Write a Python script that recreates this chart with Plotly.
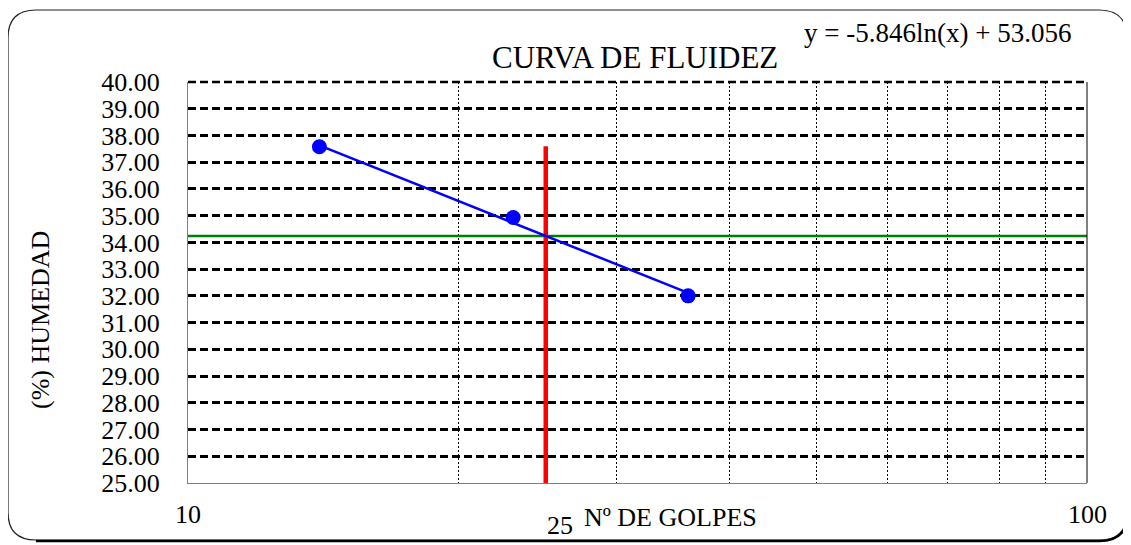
import math
import plotly.graph_objects as go

# ---- data ----
golpes = [14, 23, 36]                 # Nº de golpes (x, log scale)
humedad = [37.58, 34.93, 32.00]       # (%) humedad
trend_x = [14, 36]                    # logarithmic trend line ends
trend_y = [37.63, 32.11]
ll_golpes = 25                        # 25 golpes reference
ll_humedad = 34.24                    # moisture at 25 blows
red_top = 37.6
y_ticks = [25 + i for i in range(16)]
x_grid = [20, 30, 40, 50, 60, 70, 80, 90]
x_labels = ["10", "100"]
equation = "y = -5.846ln(x) + 53.056"
title = "CURVA DE FLUIDEZ"
x_title = "Nº DE GOLPES"
y_title = "(%) HUMEDAD"

OFF = 8                      # page body margin
W, H = 1131 - OFF, 545 - OFF
L, R, T, B = 188 - OFF, 1087 - OFF, 82 - OFF, 483 - OFF
FONT = "Liberation Serif"


def px(xp):
    return (xp - OFF - L) / (R - L)


def py(yp):
    return (B - (yp - OFF)) / (B - T)


fig = go.Figure()

fig.add_trace(go.Scatter(x=[10, 100], y=[ll_humedad, ll_humedad], mode="lines",
                         line=dict(color="#008000", width=2.5), showlegend=False,
                         hoverinfo="skip"))
fig.add_trace(go.Scatter(x=[ll_golpes, ll_golpes], y=[25, red_top], mode="lines",
                         line=dict(color="#FF0000", width=4.5), showlegend=False,
                         hoverinfo="skip"))
fig.add_trace(go.Scatter(x=trend_x, y=trend_y, mode="lines",
                         line=dict(color="#0000FF", width=2.5), showlegend=False))
fig.add_trace(go.Scatter(x=golpes, y=humedad, mode="markers",
                         marker=dict(color="#0000FF", size=15), showlegend=False))

fig.update_xaxes(type="log", range=[1, 2], tickvals=x_grid, showticklabels=False,
                 showgrid=True, gridcolor="black", gridwidth=1, griddash="2px,2px",
                 showline=True, linecolor="#808080", linewidth=1, ticks="",
                 zeroline=False)
fig.update_yaxes(range=[25, 40], tickvals=y_ticks, tickformat=".2f",
                 showgrid=True, gridcolor="black", gridwidth=2.5, griddash="8px,4px",
                 showline=True, linecolor="#808080", linewidth=1, ticks="",
                 ticklabelstandoff=22, zeroline=False,
                 tickfont=dict(family=FONT, size=26, color="black"))

ann = []
for lab, xv in zip(x_labels, [10, 100]):
    ann.append(dict(x=math.log10(xv), y=py(515), xref="x", yref="paper", text=lab,
                    showarrow=False, font=dict(family=FONT, size=26, color="black"),
                    xanchor="center", yanchor="middle"))
ann.append(dict(x=math.log10(ll_golpes), y=py(525), xref="x", yref="paper",
                text=str(ll_golpes), showarrow=False, xanchor="left", yanchor="middle",
                xshift=-1, font=dict(family=FONT, size=26, color="black")))
ann.append(dict(x=px(670), y=py(517), xref="paper", yref="paper", text=x_title,
                showarrow=False, xanchor="center", yanchor="middle",
                font=dict(family=FONT, size=26, color="black")))
ann.append(dict(x=px(40), y=py(320), xref="paper", yref="paper", text=y_title,
                showarrow=False, textangle=-90, xanchor="center", yanchor="middle",
                font=dict(family=FONT, size=26, color="black")))
ann.append(dict(x=px(635), y=py(58), xref="paper", yref="paper", text=title,
                showarrow=False, xanchor="center", yanchor="middle",
                font=dict(family=FONT, size=31, color="black")))
ann.append(dict(x=px(937), y=py(33), xref="paper", yref="paper", text=equation,
                showarrow=False, xanchor="center", yanchor="middle",
                font=dict(family=FONT, size=27, color="black")))

# rounded outer border (reference pixel coordinates)
x0, x1, y0, y1, r = 8, 1127, 10, 540, 28


def P(a, b):
    return f"{px(a):.5f},{py(b):.5f}"


border = (f"M {P(x0 + r, y0)} L {P(x1 - r, y0)} Q {P(x1, y0)} {P(x1, y0 + r)} "
          f"L {P(x1, y1 - r)} Q {P(x1, y1)} {P(x1 - r, y1)} "
          f"L {P(x0 + r, y1)} Q {P(x0, y1)} {P(x0, y1 - r)} "
          f"L {P(x0, y0 + r)} Q {P(x0, y0)} {P(x0 + r, y0)} Z")
shadow = (f"M {P(x0 + r, y1 + 1)} L {P(x1 - r, y1 + 1)} Q {P(x1 + 1, y1 + 1)} {P(x1 + 1, y1 - r)} "
          f"L {P(x1 + 1, y0 + r + 10)}")
shapes = [
    dict(type="path", path=border, xref="paper", yref="paper",
         line=dict(color="#222222", width=1.2)),
    dict(type="path", path=shadow, xref="paper", yref="paper",
         line=dict(color="black", width=2.5)),
    dict(type="line", x0=1, x1=1, y0=0, y1=1, xref="paper", yref="paper",
         line=dict(color="black", width=1)),
    # dashed gridline along the top edge (40.00), which plotly omits at the edge
    dict(type="line", x0=0, x1=1, y0=1, y1=1, xref="paper", yref="paper",
         line=dict(color="black", width=2.5, dash="8px,4px")),
]

fig.update_layout(width=W, height=H, margin=dict(l=L, r=W - R, t=T, b=H - B),
                  paper_bgcolor="white", plot_bgcolor="white",
                  annotations=ann, shapes=shapes, showlegend=False,
                  font=dict(family=FONT, color="black"))

fig.write_html("out.html")
